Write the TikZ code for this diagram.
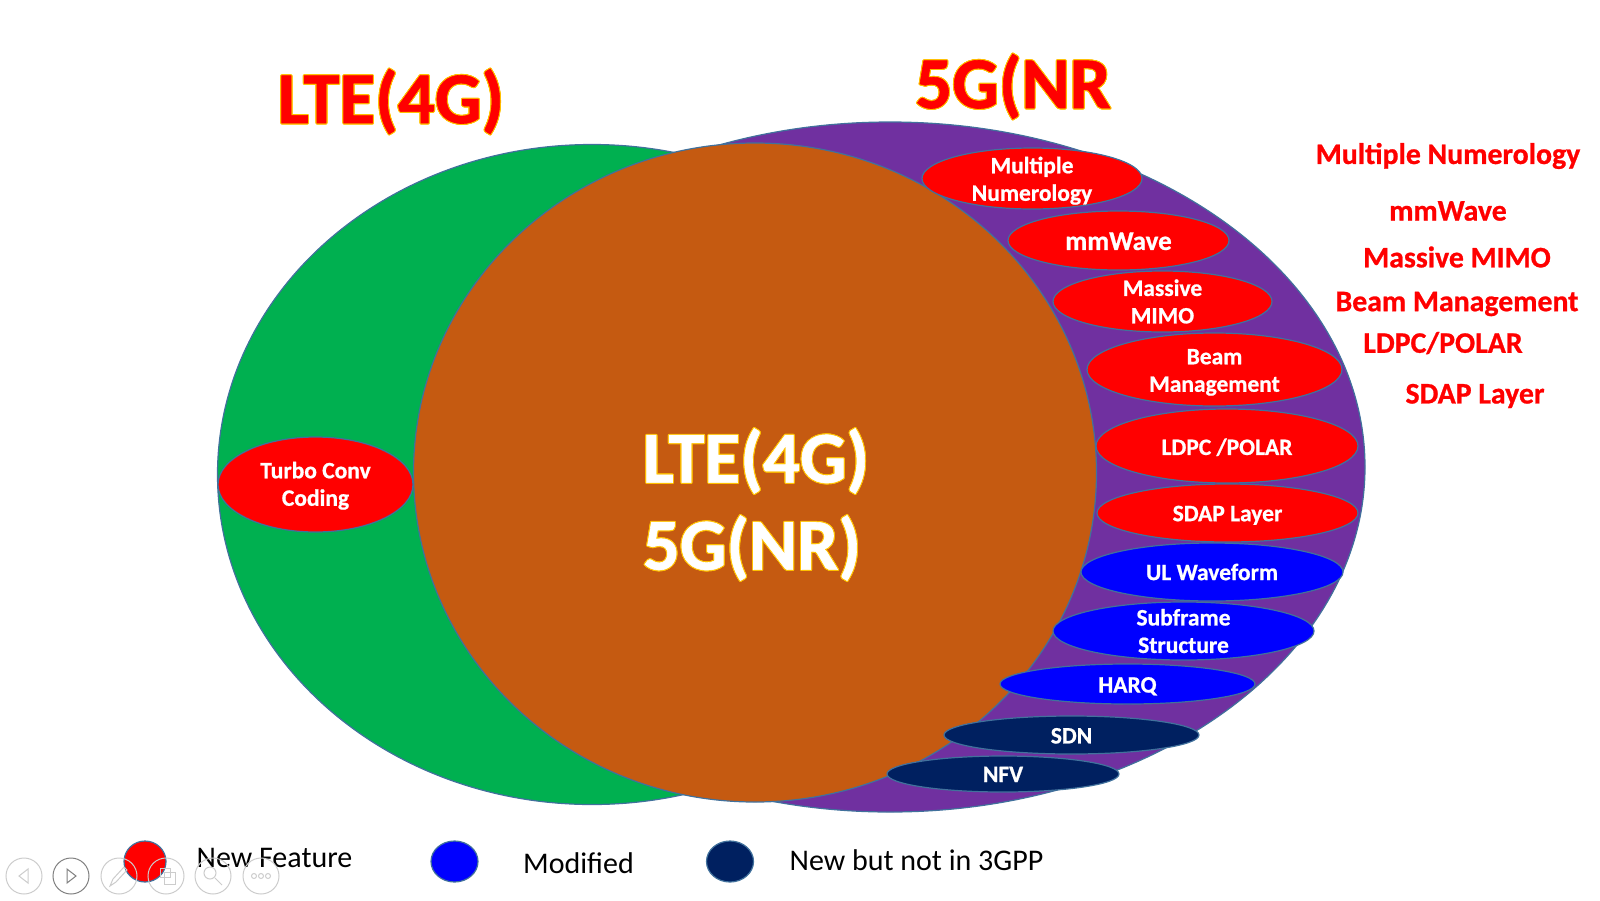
\documentclass[tikz,border=0pt]{standalone}
\usepackage{fontspec}
\setmainfont[BoldFeatures={FakeBold=0.8}]{Carlito}
\usepackage{contour}
\usetikzlibrary{shapes.geometric}
\definecolor{vennGreen}{HTML}{00B050}
\definecolor{vennPurple}{HTML}{7030A0}
\definecolor{vennBrown}{HTML}{C55A11}
\definecolor{vennNavy}{HTML}{002060}
\definecolor{vennEdge}{HTML}{41719C}
\definecolor{glowYellow}{HTML}{FFC000}
\newcommand{\glowText}[1]{\contourlength{1pt}\contour{glowYellow}{#1}}
\newcommand{\padTop}[1]{\rule{0pt}{#1pt}}
\begin{document}
\begin{tikzpicture}
        [x=1pt,y=-1pt,
        venn/.style={ellipse,draw=vennEdge,line width=1.2pt,inner sep=0pt},
        nodeRed/.style={venn,inner sep=-14pt,fill=red,text=white,align=center,font=\fontsize{23.5}{27.5}\selectfont\bfseries},
        nodeBlue/.style={nodeRed,fill=blue},
        nodeNavy/.style={nodeRed,fill=vennNavy},
        legendDot/.style={venn,minimum width=47pt,minimum height=41pt},
        title/.style={inner sep=0pt,font=\fontsize{73}{87}\selectfont\bfseries},
        sideLabel/.style={inner sep=0pt,text=red,font=\fontsize{29.8}{30}\selectfont\bfseries},
        legendLabel/.style={inner sep=0pt,font=\fontsize{30}{34}\selectfont},
        navBtn/.style={circle,draw=gray!40,line width=1pt,minimum size=36pt,inner sep=0pt}]
        \useasboundingbox (0,0) rectangle (1600,900);

        \node[venn,fill=vennGreen,minimum width=749pt,minimum height=660pt] (lte) at (592,474.5) {};
        \node[venn,fill=vennPurple,minimum width=950pt,minimum height=690pt] (nr) at (890,467) {};
        \node[venn,fill=vennBrown,minimum width=683pt,minimum height=659pt] (both) at (755,472.5) {};

        \node[title,text=red] (lteTitle) at (391,102) {\glowText{LTE(4G)}};
        \node[title,text=red] (nrTitle) at (1013,87) {\glowText{5G(NR}};
        \node[title,text=white,align=left] (bothTitle) at (756,505) {\glowText{LTE(4G)}\\\glowText{5G(NR)}};

        \node[nodeRed,minimum width=195pt,minimum height=95pt] (turbo) at (315.5,484.5) {\padTop{19}Turbo Conv\\Coding};
        \node[nodeRed,minimum width=220pt,minimum height=61pt] (numer) at (1032,178.5) {\padTop{21}Multiple\\Numerology};
        \node[nodeRed,minimum width=221pt,minimum height=59pt,font=\fontsize{27}{28}\selectfont\bfseries] (mmw) at (1118.5,240.5) {\padTop{19}mmWave};
        \node[nodeRed,minimum width=219pt,minimum height=61pt] (mimo) at (1162.5,301.5) {Massive\\MIMO};
        \node[nodeRed,minimum width=255pt,minimum height=73pt] (beam) at (1214.5,369.5) {\padTop{21}Beam\\Management};
        \node[nodeRed,minimum width=262pt,minimum height=74pt] (ldpc) at (1227,446) {\padTop{19}LDPC /POLAR};
        \node[nodeRed,minimum width=261pt,minimum height=58pt] (sdap) at (1227.5,513) {\padTop{20}SDAP Layer};
        \node[nodeBlue,minimum width=262pt,minimum height=58pt] (ul) at (1212,572) {UL Waveform};
        \node[nodeBlue,minimum width=261pt,minimum height=58pt] (subfr) at (1183.5,631) {Subframe\\Structure};
        \node[nodeBlue,minimum width=255pt,minimum height=40pt] (harq) at (1127.5,684) {\padTop{20}HARQ};
        \node[nodeNavy,minimum width=255pt,minimum height=38pt] (sdn) at (1071.5,735) {\padTop{17}SDN};
        \node[nodeNavy,minimum width=232pt,minimum height=36pt] (nfv) at (1003,774) {\padTop{16}NFV};

        \node[sideLabel] (lblNumer) at (1448,156) {Multiple Numerology};
        \node[sideLabel] (lblMmw) at (1448,211) {mmWave};
        \node[sideLabel] (lblMimo) at (1457,257) {Massive MIMO};
        \node[sideLabel] (lblBeam) at (1457,304) {Beam Management};
        \node[sideLabel] (lblLdpc) at (1443,343) {LDPC/POLAR};
        \node[sideLabel] (lblSdap) at (1475,396) {SDAP Layer};

        \node[legendDot,fill=red,minimum width=42pt] (dotNew) at (145,861.5) {};
        \node[legendDot,fill=blue] (dotMod) at (454.5,861.5) {};
        \node[legendDot,fill=vennNavy] (dotExt) at (730,861.5) {};
        \node[legendLabel] (txtNew) at (274.5,858) {New Feature};
        \node[legendLabel] (txtMod) at (578.5,863) {Modified};
        \node[legendLabel] (txtExt) at (916.5,860) {New but not in 3GPP};

        % slide show controls
        \node[navBtn] (btnPrev) at (24,876) {};
        \node[navBtn,draw=gray] (btnNext) at (71,876) {};
        \node[navBtn] (btnPen) at (119,876) {};
        \node[navBtn] (btnSlides) at (166,876) {};
        \node[navBtn] (btnZoom) at (213,876) {};
        \node[navBtn] (btnMore) at (261,876) {};
        \draw[gray!40,line width=1pt] (btnPrev)+(4,-7) -- +(-5,0) -- +(4,7) -- cycle;
        \draw[gray,line width=1pt] (btnNext)+(-4,-7) -- +(5,0) -- +(-4,7) -- cycle;
        \draw[gray!40,line width=1pt] (btnPen)+(-9,10) -- +(-6,3) -- +(5,-9) -- +(8,-6) -- +(-3,6) -- cycle;
        \draw[gray!40,line width=1pt] (btnSlides)+(-6,-8) rectangle +(4,1) (btnSlides)+(-2,-4) rectangle +(9,8);
        \draw[gray!40,line width=1pt] (btnZoom)+(-3,-3) circle (6pt) (btnZoom)+(2,2) -- +(9,9);
        \draw[gray!40,line width=1pt] (btnMore)+(-7,0) circle (2.5pt) (btnMore)+(0,0) circle (2.5pt) (btnMore)+(7,0) circle (2.5pt);
\end{tikzpicture}
\end{document}
